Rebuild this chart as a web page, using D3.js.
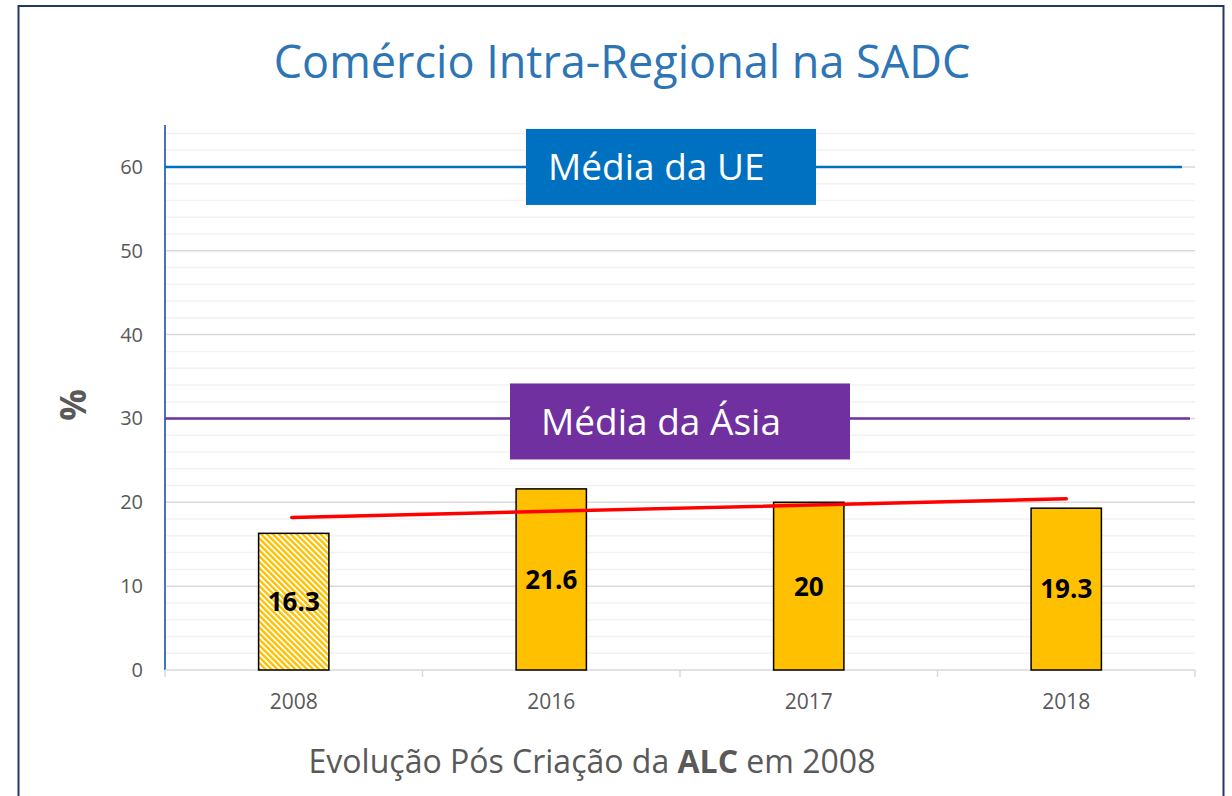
<!DOCTYPE html>
<html lang="pt">
<head>
<meta charset="UTF-8">
<title>Comércio Intra-Regional na SADC</title>
<script src="https://cdn.jsdelivr.net/npm/d3@7"></script>
<style>
  html, body { margin: 0; padding: 0; background: #fff; }
  svg { display: block; font-family: "Open Sans", "Noto Sans", sans-serif; }
</style>
</head>
<body>
<div id="chart"></div>
<script>
// dados
const years = ["2008", "2016", "2017", "2018"];
const values = [16.3, 21.6, 20, 19.3];
const hatched = [true, false, false, false];
const yTicks = [0, 10, 20, 30, 40, 50, 60];
const refLines = [
  {label: "Média da UE", value: 60, color: "#0070C0"},
  {label: "Média da Ásia", value: 30, color: "#7030A0"}
];

const width = 1232, height = 796;
const margin = {top: 125, right: 37, bottom: 126, left: 165};
const innerW = width - margin.left - margin.right;
const innerH = height - margin.top - margin.bottom;

const svg = d3.select("#chart").append("svg")
  .attr("width", width).attr("height", height);

// padrão listrado para 2008
const defs = svg.append("defs");
const pat = defs.append("pattern")
  .attr("id", "hatch").attr("patternUnits", "userSpaceOnUse")
  .attr("width", 4.2).attr("height", 4.2)
  .attr("patternTransform", "rotate(-45)");
pat.append("rect").attr("width", 4.2).attr("height", 4.2).attr("fill", "#fff");
pat.append("rect").attr("width", 2.4).attr("height", 4.2).attr("fill", "#FFC000");

// moldura
svg.append("rect")
  .attr("x", 18.5).attr("y", 6).attr("width", 1205).attr("height", 800)
  .attr("fill", "none").attr("stroke", "#1F3864").attr("stroke-width", 2);

// título
svg.append("text")
  .attr("x", 622).attr("y", 78)
  .attr("text-anchor", "middle")
  .attr("fill", "#2E75B6").attr("font-size", 45)
  .text("Comércio Intra-Regional na SADC");

const g = svg.append("g").attr("transform", `translate(${margin.left},${margin.top})`);

const x = d3.scaleBand().domain(years).range([0, innerW]).paddingInner(0.727).paddingOuter(0.3635);
const xOuter = d3.scaleBand().domain(years).range([0, innerW]);
const y = d3.scaleLinear().domain([0, 65]).range([innerH, 0]);

// grelha menor e maior
const minor = d3.range(2, 66, 2).filter(v => v % 10 !== 0);
g.append("g").selectAll("line").data(minor).join("line")
  .attr("x1", 0).attr("x2", innerW)
  .attr("y1", d => y(d)).attr("y2", d => y(d))
  .attr("stroke", "#F2F2F2").attr("stroke-width", 1.5);
g.append("g").selectAll("line").data(yTicks.slice(1)).join("line")
  .attr("x1", 0).attr("x2", innerW)
  .attr("y1", d => y(d)).attr("y2", d => y(d))
  .attr("stroke", "#D9D9D9").attr("stroke-width", 1.5);

// eixo y
const yAxis = g.append("g")
  .call(d3.axisLeft(y).tickValues(yTicks).tickSize(0).tickPadding(22));
yAxis.select(".domain").remove();
yAxis.selectAll("text").attr("font-size", 20).attr("fill", "#595959")
  .attr("font-family", "'Open Sans', sans-serif");
g.append("line").attr("x1", 0).attr("x2", 0).attr("y1", 0).attr("y2", innerH)
  .attr("stroke", "#4472C4").attr("stroke-width", 2);

// eixo x
g.append("line").attr("x1", 0).attr("x2", innerW).attr("y1", innerH).attr("y2", innerH)
  .attr("stroke", "#D9D9D9").attr("stroke-width", 1.5);
const tickPos = years.map(d => xOuter(d)).concat([innerW]);
g.append("g").selectAll("line").data(tickPos).join("line")
  .attr("x1", d => d).attr("x2", d => d)
  .attr("y1", innerH).attr("y2", innerH + 7)
  .attr("stroke", "#D9D9D9").attr("stroke-width", 1.5);
g.append("g").selectAll("text").data(years).join("text")
  .attr("x", d => x(d) + x.bandwidth() / 2)
  .attr("y", innerH + 39)
  .attr("text-anchor", "middle")
  .attr("font-size", 21).attr("fill", "#595959")
  .text(d => d);

// linhas de referência
refLines.forEach((r, i) => {
  g.append("line")
    .attr("x1", 0).attr("x2", i === 0 ? innerW - 13 : innerW - 5)
    .attr("y1", y(r.value)).attr("y2", y(r.value))
    .attr("stroke", r.color).attr("stroke-width", 2.5);
});

// barras
const data = years.map((d, i) => ({year: d, value: values[i], hatched: hatched[i]}));
g.append("g").selectAll("rect").data(data).join("rect")
  .attr("x", d => x(d.year))
  .attr("y", d => y(d.value))
  .attr("width", x.bandwidth())
  .attr("height", d => innerH - y(d.value))
  .attr("fill", d => d.hatched ? "url(#hatch)" : "#FFC000")
  .attr("stroke", "#000").attr("stroke-width", 1.5);

g.append("g").selectAll("text").data(data).join("text")
  .attr("x", d => x(d.year) + x.bandwidth() / 2)
  .attr("y", d => (y(d.value) + innerH) / 2)
  .attr("dy", "0.36em")
  .attr("text-anchor", "middle")
  .attr("font-size", 26).attr("font-weight", "bold").attr("fill", "#000")
  .text(d => d.value);

// linha de tendência (regressão linear)
const xs = values.map((v, i) => i + 1);
const mx = d3.mean(xs), my = d3.mean(values);
const slope = d3.sum(xs.map((xi, i) => (xi - mx) * (values[i] - my))) / d3.sum(xs.map(xi => (xi - mx) ** 2));
const trend = xi => my + slope * (xi - mx);
g.append("line")
  .attr("x1", x(years[0]) + x.bandwidth() / 2 - 2)
  .attr("x2", x(years[3]) + x.bandwidth() / 2)
  .attr("y1", y(trend(1))).attr("y2", y(trend(4)))
  .attr("stroke", "#FF0000").attr("stroke-width", 3.5).attr("stroke-linecap", "round");

// caixas dos rótulos de referência
const boxes = [
  {cx: 671, w: 290, pad: 22, dy: 0},
  {cx: 680, w: 340, pad: 31, dy: 3}
];
refLines.forEach((r, i) => {
  const b = boxes[i];
  const cy = y(r.value) + b.dy;
  g.append("rect")
    .attr("x", b.cx - b.w / 2 - margin.left).attr("y", cy - 38)
    .attr("width", b.w).attr("height", 76)
    .attr("fill", r.color);
  g.append("text")
    .attr("x", b.cx - b.w / 2 - margin.left + b.pad)
    .attr("y", cy)
    .attr("dy", "0.36em")
    .attr("fill", "#fff").attr("font-size", 37)
    .text(r.label);
});

// rótulo do eixo y
svg.append("text")
  .attr("transform", "translate(86,405) rotate(-90)")
  .attr("text-anchor", "middle")
  .attr("font-size", 35).attr("font-weight", "bold").attr("fill", "#595959")
  .text("%");

// rótulo do eixo x
const xl = svg.append("text")
  .attr("x", 592).attr("y", 773)
  .attr("text-anchor", "middle")
  .attr("font-size", 32).attr("fill", "#595959");
xl.append("tspan").text("Evolução Pós Criação da ");
xl.append("tspan").attr("font-weight", "bold").text("ALC");
xl.append("tspan").text(" em 2008");
</script>
</body>
</html>
